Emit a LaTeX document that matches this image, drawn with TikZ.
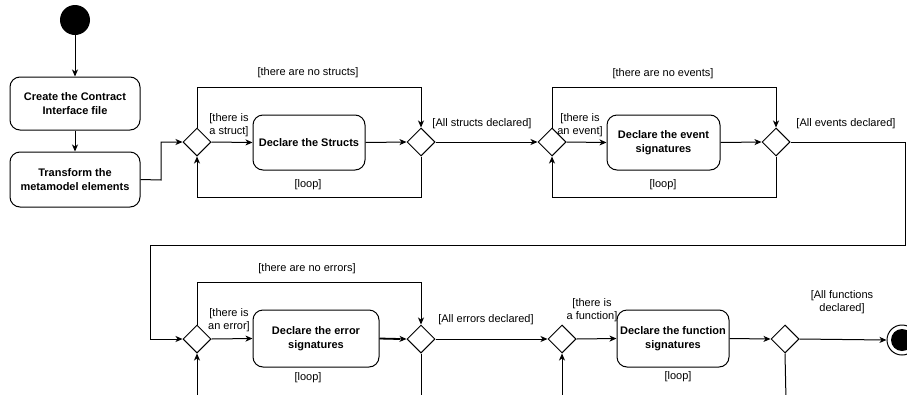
\documentclass[tikz,border=0pt]{standalone}
\usepackage{fontspec}
\setmainfont{Liberation Sans}
\usetikzlibrary{shapes.geometric,arrows.meta}

\tikzset{
  every picture/.style={x=1pt,y=-1pt},
  lbl/.style={font=\fontsize{11}{13}\selectfont, align=center, inner sep=0pt},
  action/.style={draw, rounded corners=10pt, line width=1pt, font=\bfseries\fontsize{11}{14}\selectfont,
    align=center, inner sep=1pt, minimum height=55pt},
  choice/.style={draw, diamond, aspect=1, inner sep=0pt, minimum width=28pt, minimum height=28pt, line width=1pt},
  flow/.style={line width=1pt, -{Stealth[length=7pt,width=6pt,inset=2pt]}},
  wire/.style={line width=1pt},
}

\begin{document}
\begin{tikzpicture}
\useasboundingbox (0,0) rectangle (907,394);
\clip (0,0) rectangle (907,394);

% initial and final states
\node[circle, fill=black, minimum size=30pt, inner sep=0pt] (start) at (75,20) {};
\node[circle, draw, line width=1pt, minimum size=30pt, inner sep=0pt] (stop) at (902,340) {};
\node[circle, fill=black, minimum size=22pt, inner sep=0pt] (stopdot) at (902,340) {};

% preparation steps
\node[action, minimum width=130pt, minimum height=53pt] (create) at (75,103.5) {Create the Contract\\Interface file};
\node[action, minimum width=130pt] (transform) at (75,179.5) {Transform the\\metamodel elements};

% structs block
\node[choice] (d1) at (197,142) {};
\node[action, minimum width=112pt] (structs) at (309,142.5) {Declare the Structs};
\node[choice] (d2) at (421,142) {};

% events block
\node[choice] (d3) at (552,142) {};
\node[action, minimum width=113pt] (events) at (663.5,142.5) {Declare the event\\signatures};
\node[choice] (d4) at (776,142) {};

% errors block
\node[choice] (d5) at (197,339) {};
\node[action, minimum width=126pt, minimum height=57pt] (errors) at (316,338.5) {Declare the error\\signatures};
\node[choice] (d6) at (421,339) {};

% functions block
\node[choice] (d7) at (562,339) {};
\node[action, minimum width=112pt, minimum height=57pt] (functions) at (673,338.5) {Declare the function\\signatures};
\node[choice] (d8) at (785,339) {};

% free ends of the loops cut at the lower edge
\coordinate (e5) at (197,400);
\coordinate (e6) at (421,400);
\coordinate (e7) at (562,400);
\coordinate (e8) at (786,400);

% main flow
\draw[flow] (start) -- (create);
\draw[flow] (create) -- (transform);
\draw[flow] (transform.east) -- (161,180) |- (d1.west);
\draw[flow] (d1.east) -- (structs.west);
\draw[flow] (structs.east) -- (d2.west);
\draw[flow] (d2.east) -- (d3.west);
\draw[flow] (d3.east) -- (events.west);
\draw[flow] (events.east) -- (d4.west);
\draw[flow] (d4.east) -- (905,142) -- (905,245) -- (150,245) |- (d5.west);
\draw[flow] (d5.east) -- (errors.west);
\draw[line width=1.8pt] (errors.east) -- (400,339);
\draw[flow] (errors.east) -- (d6.west);
\draw[flow] (d6.east) -- (d7.west);
\draw[flow] (d7.east) -- (functions.west);
\draw[flow] (functions.east) -- (d8.west);
\draw[flow] (d8.east) -- (stop.west);

% skip paths over the blocks
\draw[flow] (d1.north) -- (197,87) -| (d2.north);
\draw[flow] (d3.north) -- (552,87) -| (d4.north);
\draw[flow] (d5.north) -- (197,282) -| (d6.north);

% loop-back paths under the blocks
\draw[flow] (d2.south) -- (421,197) -| (d1.south);
\draw[flow] (d4.south) -- (776,197) -| (d3.south);
\draw[flow] (e5) -- (d5.south);
\draw[wire] (d6.south) -- (e6);
\draw[flow] (e7) -- (d7.south);
\draw[wire] (d8.south) -- (e8);

% guard labels
\node[lbl] (l1) at (308,73) {[there are no structs]};
\node[lbl] (l2) at (229,125) {[there is\\ a struct]};
\node[lbl] (l3) at (308,185) {[loop]};
\node[lbl] (l4) at (482,124) {[All structs declared]};
\node[lbl] (l5) at (663,74) {[there are no events]};
\node[lbl] (l6) at (580,125) {[there is\\an event]};
\node[lbl] (l7) at (663,185) {[loop]};
\node[lbl] (l8) at (846,124) {[All events declared]};
\node[lbl] (l9) at (307,269) {[there are no errors]};
\node[lbl] (l10) at (229,320) {[there is\\an error]};
\node[lbl] (l11) at (308,378) {[loop]};
\node[lbl] (l12) at (486,320) {[All errors declared]};
\node[lbl] (l13) at (592,310) {[there is\\a function]};
\node[lbl] (l14) at (678,377) {[loop]};
\node[lbl] (l15) at (842,302) {[All functions\\declared]};
\end{tikzpicture}
\end{document}
